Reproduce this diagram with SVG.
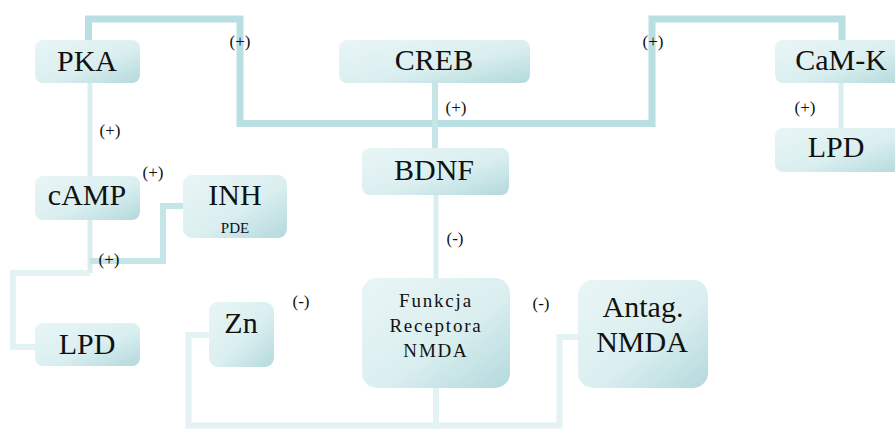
<svg xmlns="http://www.w3.org/2000/svg" width="895" height="429" viewBox="0 0 895 429">
<defs>
<linearGradient id="g" x1="0" y1="0" x2="1" y2="1">
<stop offset="0" stop-color="#e9f5f6"/>
<stop offset="0.55" stop-color="#dbeff0"/>
<stop offset="1" stop-color="#b3d9dc"/>
</linearGradient>
<style>
.box{fill:url(#g);}
.t{fill:#111;text-anchor:middle;font-family:'Liberation Serif','Times New Roman',Times,'Nimbus Roman','Nimbus Roman No9 L',Tinos,'Noto Serif','DejaVu Serif',FreeSerif,serif;}
.big{font-size:30px;}
.s{font-size:17px;}
.f{font-size:19px;letter-spacing:1.8px;}
.c{fill:none;stroke-linejoin:miter;stroke-linecap:butt;}
.dark{stroke:#b9dfe2;stroke-width:7;}
.mid{stroke:#c6e5e7;stroke-width:6;}
.lite{stroke:#daeef0;stroke-width:5;}
.pale{stroke:#e4f2f3;stroke-width:6;}
</style>
</defs>
<rect width="895" height="429" fill="#fff"/>
<g id="connectors">
<path class="c dark" d="M88.5 43 V19 H240 V123.5 H652 V19 H842 V43"/>
<path class="c mid" d="M435 83 V148"/>
<path class="c lite" d="M436 195 V278"/>
<path class="c pale" d="M436 388 V429"/>
<path class="c pale" d="M209 335 H188.5 V425.5 H559.5 V337 H578"/>
<path class="c lite" d="M90 83 V176"/>
<path class="c lite" d="M90 220 V273"/>
<path class="c pale" d="M90 273 H13 V347 H35"/>
<path class="c mid" d="M183 206 H163 V261 H90"/>
<path class="c lite" d="M841 83 V128"/>
</g>
<g id="PKA"><rect class="box" x="35" y="40" width="105" height="43" rx="8"/><text class="t big" x="87" y="71">PKA</text></g>
<g id="CREB"><rect class="box" x="339" y="40" width="191" height="43" rx="8"/><text class="t big" x="434" y="70">CREB</text></g>
<g id="CaMK"><rect class="box" x="775" y="40" width="130" height="43" rx="8"/><text class="t big" x="841" y="70">CaM-K</text></g>
<g id="LPD_right"><rect class="box" x="775" y="128" width="130" height="44" rx="8"/><text class="t big" x="836" y="157">LPD</text></g>
<g id="BDNF"><rect class="box" x="362" y="148" width="147" height="47" rx="8"/><text class="t big" x="434" y="180">BDNF</text></g>
<g id="cAMP"><rect class="box" x="35" y="176" width="105" height="44" rx="8"/><text class="t big" x="87" y="205">cAMP</text></g>
<g id="INH"><rect class="box" x="183" y="175" width="104" height="63" rx="9"/><text class="t big" x="235" y="205">INH</text><text class="t" font-size="15" x="235" y="233">PDE</text></g>
<g id="LPD_left"><rect class="box" x="35" y="323" width="105" height="43" rx="8"/><text class="t big" x="87" y="354">LPD</text></g>
<g id="Zn"><rect class="box" x="209" y="302" width="65" height="65" rx="9"/><text class="t big" x="241" y="333">Zn</text></g>
<g id="Funkcja"><rect class="box" x="362" y="278" width="148" height="110" rx="15"/><text class="t f" x="436" y="307">Funkcja</text><text class="t f" x="436" y="332">Receptora</text><text class="t f" x="436" y="357">NMDA</text></g>
<g id="Antag"><rect class="box" x="578" y="280" width="130" height="108" rx="15"/><text class="t big" x="643" y="317">Antag.</text><text class="t big" x="642" y="352">NMDA</text></g>
<g id="labels">
<text class="t s" x="240" y="47">(+)</text>
<text class="t s" x="653" y="47">(+)</text>
<text class="t s" x="110" y="136">(+)</text>
<text class="t s" x="153" y="178">(+)</text>
<text class="t s" x="109" y="265">(+)</text>
<text class="t s" x="456" y="113">(+)</text>
<text class="t s" x="805" y="113">(+)</text>
<text class="t s" x="455" y="244">(-)</text>
<text class="t s" x="301" y="307">(-)</text>
<text class="t s" x="541" y="309">(-)</text>
</g>
</svg>
